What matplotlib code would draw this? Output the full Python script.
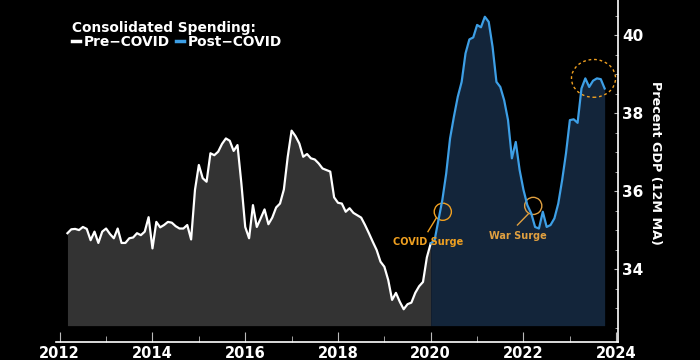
import matplotlib
matplotlib.use("Agg")
import matplotlib.pyplot as plt
from matplotlib.patches import Ellipse
from matplotlib.lines import Line2D
from matplotlib.ticker import MultipleLocator, FormatStrFormatter

# monthly values, % of GDP (12M moving average)
pre_covid = [34.92, 35.02, 35.03, 35.00, 35.08, 35.03, 34.74, 34.96, 34.67, 34.96,
             35.04, 34.90, 34.79, 35.04, 34.67, 34.67, 34.79, 34.81, 34.92, 34.87,
             34.96, 35.33, 34.53, 35.21, 35.07, 35.13, 35.21, 35.19, 35.10, 35.04,
             35.04, 35.13, 34.76, 36.03, 36.67, 36.33, 36.24, 36.97, 36.92, 37.01,
             37.21, 37.35, 37.29, 37.03, 37.18, 36.20, 35.08, 34.79, 35.64, 35.08,
             35.30, 35.53, 35.15, 35.32, 35.58, 35.68, 36.04, 36.88, 37.55, 37.41,
             37.22, 36.88, 36.95, 36.84, 36.81, 36.71, 36.58, 36.54, 36.50, 35.84,
             35.70, 35.68, 35.47, 35.56, 35.44, 35.38, 35.32, 35.13, 34.92, 34.70,
             34.49, 34.19, 34.06, 33.72, 33.21, 33.39, 33.16, 32.97, 33.10, 33.14,
             33.39, 33.56, 33.67, 34.30, 34.66]
post_covid = [34.66, 34.74, 35.26, 35.77, 36.45, 37.35, 37.91, 38.42, 38.80, 39.53,
              39.89, 39.94, 40.26, 40.20, 40.47, 40.34, 39.70, 38.80, 38.67, 38.33,
              37.82, 36.84, 37.26, 36.54, 36.03, 35.64, 35.43, 35.08, 35.04, 35.47,
              35.08, 35.13, 35.30, 35.68, 36.28, 36.97, 37.82, 37.84, 37.75, 38.63,
              38.89, 38.67, 38.83, 38.89, 38.87, 38.63]
post_start = 2020.0
base = 32.55

pre_x = [post_start - (len(pre_covid) - 1 - i) / 12 for i in range(len(pre_covid))]
post_x = [post_start + i / 12 for i in range(len(post_covid))]

white = "#ffffff"
blue = "#3d9fe6"
orange = "#f0a020"
orange2 = "#e0a040"

plt.rcParams["font.family"] = "DejaVu Sans"
plt.rcParams["font.weight"] = "bold"

fig = plt.figure(figsize=(7, 3.6), dpi=100, facecolor="black")
ax = fig.add_axes([0.08, 0.05, 0.803, 0.95])
ax.set_facecolor("black")

ax.fill_between(pre_x, pre_covid, base, color="#333333", lw=0)
ax.fill_between(post_x, post_covid, base, color="#13253a", lw=0)
ax.plot(pre_x, pre_covid, color=white, lw=1.6)
ax.plot(post_x, post_covid, color=blue, lw=1.6)

# annotations
ax.add_patch(Ellipse((2020.26, 35.47), 0.37, 0.44, fill=False, ec=orange, lw=1.0))
ax.plot([2020.12, 2019.94], [35.31, 34.96], color=orange, lw=1.0)
ax.text(2019.94, 34.69, "COVID Surge", color=orange, fontsize=7, ha="center", va="center")
ax.add_patch(Ellipse((2022.21, 35.62), 0.37, 0.44, fill=False, ec=orange2, lw=1.0))
ax.plot([2022.10, 2021.87], [35.41, 35.13], color=orange2, lw=1.0)
ax.text(2021.87, 34.85, "War Surge", color=orange2, fontsize=7, ha="center", va="center")
ax.add_patch(Ellipse((2023.51, 38.89), 0.95, 0.97, fill=False, ec=orange, lw=1.0,
                     ls=(0, (2, 2))))

ax.set_xlim(2011.92, 2024.04)
ax.set_ylim(32.13, 40.9)

for s in ["top", "left"]:
    ax.spines[s].set_visible(False)
for s in ["bottom", "right"]:
    ax.spines[s].set_color(white)
    ax.spines[s].set_linewidth(1.2)

ax.yaxis.tick_right()
ax.yaxis.set_label_position("right")
ax.xaxis.set_major_locator(MultipleLocator(2))
ax.xaxis.set_minor_locator(MultipleLocator(1))
ax.yaxis.set_major_locator(MultipleLocator(2))
ax.yaxis.set_minor_locator(MultipleLocator(0.5))
ax.xaxis.set_major_formatter(FormatStrFormatter("%d"))
ax.tick_params(axis="x", which="major", direction="in", length=7, color="#bbbbbb",
               labelcolor=white, labelsize=10.5, pad=3)
ax.tick_params(axis="x", which="minor", direction="in", length=4.5, color="#bbbbbb")
ax.tick_params(axis="y", which="major", direction="in", length=3, color="#bbbbbb",
               labelcolor=white, labelsize=11, pad=3)
ax.tick_params(axis="y", which="minor", direction="in", length=2, color="#bbbbbb")
ax.set_ylabel("Precent GDP (12M MA)", color=white, fontsize=9.2, rotation=270,
              fontweight="bold", va="center")
ax.yaxis.set_label_coords(1.067, 0.523)

handles = [Line2D([], [], color=white, lw=2.5), Line2D([], [], color=blue, lw=2.5)]
leg = ax.legend(handles, ["Pre\u2212COVID", "Post\u2212COVID"], ncol=2,
                title="Consolidated Spending:", loc="upper left",
                bbox_to_anchor=(0.028, 0.94), frameon=False, fontsize=9.9,
                handlelength=0.6, handletextpad=0.25, columnspacing=0.45,
                borderpad=0, borderaxespad=0, labelspacing=0)
leg.get_title().set_color(white)
leg.get_title().set_fontsize(9.9)
leg.get_title().set_fontweight("bold")
leg._legend_box.align = "left"
for t in leg.get_texts():
    t.set_color(white)

fig.savefig("out.png", dpi=100, facecolor="black")
